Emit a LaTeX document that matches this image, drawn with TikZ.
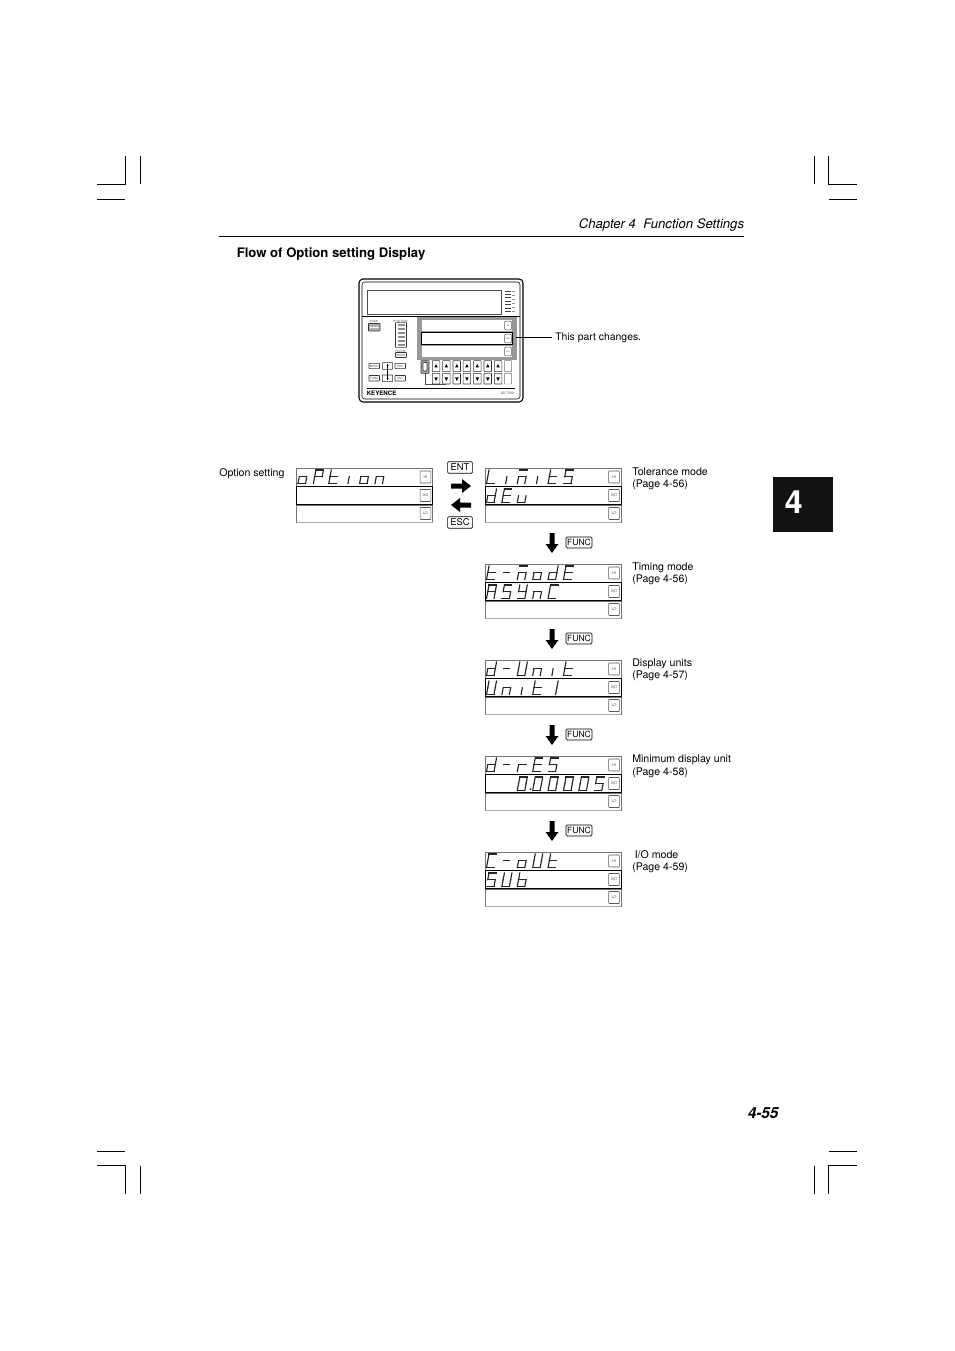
\documentclass[tikz,border=0pt]{standalone}
\usepackage{fontspec}
\setmainfont{TeX Gyre Heros}
\newcommand\SegA{\draw[segline] (2.5,0)--(10,0);}
\newcommand\SegB{\draw[segline] (10,0)--(8.75,6.75);}
\newcommand\SegC{\draw[segline] (8.75,6.75)--(7.5,13.5);}
\newcommand\SegD{\draw[segline] (0,13.5)--(7.5,13.5);}
\newcommand\SegE{\draw[segline] (1.25,6.75)--(0,13.5);}
\newcommand\SegF{\draw[segline] (2.5,0)--(1.25,6.75);}
\newcommand\SegG{\draw[segline] (1.25,6.75)--(8.75,6.75);}
\newcommand\GlO{\SegC\SegD\SegE\SegG}
\newcommand\GlP{\SegA\SegB\SegE\SegF\SegG}
\newcommand\GlT{\SegD\SegE\SegF\SegG}
\newcommand\GlI{\draw[segline] (5,6.75)--(3.8,13.5);}
\newcommand\GlN{\SegC\SegE\SegG}
\newcommand\GlL{\SegD\SegE\SegF}
\newcommand\GlM{\SegA\SegC\SegE\SegG}
\newcommand\GlS{\SegA\SegC\SegD\SegF\SegG}
\newcommand\GlD{\SegB\SegC\SegD\SegE\SegG}
\newcommand\GlE{\SegA\SegD\SegE\SegF\SegG}
\newcommand\GlU{\SegC\SegD\SegE}
\newcommand\GlDash{\draw[segline] (2,6.75)--(8,6.75);}
\newcommand\GlA{\SegA\SegB\SegC\SegE\SegF\SegG}
\newcommand\GlY{\SegB\SegC\SegD\SegF\SegG}
\newcommand\GlC{\SegA\SegD\SegE\SegF}
\newcommand\GlBigU{\SegB\SegC\SegD\SegE\SegF}
\newcommand\GlOne{\SegB\SegC}
\newcommand\GlR{\SegE\SegG}
\newcommand\GlB{\SegC\SegD\SegE\SegF\SegG}
\newcommand\GlZero{\SegA\SegB\SegC\SegD\SegE\SegF}
\newcommand\dispText[3]{\foreach \p/\g in {#3}{\begin{scope}[shift={(#1+15.4*\p,#2)}]\g\end{scope}}}
\newcommand\panel[2]{%
  \draw[rowgray] (#1,#2) rectangle (#1+136,#2+18);
  \draw[rowgray] (#1,#2+37) rectangle (#1+136,#2+54);
  \draw[rowblack] (#1,#2+18.5) rectangle (#1+136,#2+36.5);
  \draw[gray!70,line width=.7pt] (#1,#2+54) -- (#1+136,#2+54);
  \node[btn] at (#1+129,#2+9) {HI};
  \node[btn] at (#1+129,#2+27.5) {GO};
  \node[btn] at (#1+129,#2+45.5) {LO};
}
\newcommand\funcstep[1]{%
  \fill (549.5,#1) -- (554.5,#1) -- (554.5,#1+11) -- (558.5,#1+11) -- (552,#1+20) -- (545.5,#1+11) -- (549.5,#1+11) -- cycle;
  \node[keybox,minimum width=19.5pt,minimum height=8.2pt] at (579,#1+9.5) {FUNC};
}
\newcommand\crop[1]{\draw[cropline] #1;}
\tikzset{
  segline/.style={line width=.85pt,line cap=rect,black!85},
  rowgray/.style={draw=black!55,line width=.45pt},
  rowblack/.style={draw=black,line width=.65pt},
  btn/.style={draw=black!65,line width=.4pt,rounded corners=.6pt,minimum width=8.2pt,minimum height=9pt,inner sep=0pt,font=\fontsize{2.8}{3}\selectfont,text=black!70},
  keybox/.style={draw=black,line width=.45pt,rounded corners=1pt,inner sep=0pt,font=\fontsize{6.4}{7}\selectfont},
  cropline/.style={line width=.7pt,black},
  lab/.style={anchor=base west,inner sep=0pt,align=left,font=\fontsize{7.95}{9}\selectfont},
  tiny/.style={inner sep=0pt,font=\fontsize{2.2}{2.5}\selectfont,text=black!70},
  pk/.style={draw=black!80,line width=.4pt,rounded corners=.3pt},
  pkg/.style={draw=black!55,line width=.35pt,rounded corners=.3pt},
}
\begin{document}
\begin{tikzpicture}[x=.75pt,y=-.75pt]
\useasboundingbox (0,0) rectangle (954,1351);
\fill[white] (0,0) rectangle (954,1351);
% crop marks
\crop{(97,184.5)--(125.5,184.5)--(125.5,156)}
\crop{(140.5,156)--(140.5,184.5)}
\crop{(97,199.5)--(125,199.5)}
\crop{(814.5,156)--(814.5,184.5)}
\crop{(828.5,156)--(828.5,184.5)--(857,184.5)}
\crop{(829,199.5)--(857,199.5)}
\crop{(97,1151)--(125,1151)}
\crop{(97,1165.5)--(125.5,1165.5)--(125.5,1194)}
\crop{(140.5,1165.5)--(140.5,1194)}
\crop{(829,1151)--(857,1151)}
\crop{(814.5,1165.5)--(814.5,1194)}
\crop{(857,1165.5)--(828.5,1165.5)--(828.5,1194)}
% header
\node[lab,font=\fontsize{9.85}{11}\itshape] (chap) at (578.5,229) {Chapter 4\ \ Function Settings};
\draw[line width=.6pt] (219,236.5) -- (744,236.5);
\node[lab,font=\fontsize{9.85}{11}\bfseries] (title) at (236.5,258) {Flow of Option setting Display};
% front panel
\draw[line width=.8pt,rounded corners=3pt] (359,279) rectangle (523,402);
\draw[line width=.4pt,rounded corners=2pt] (362,282) rectangle (520,399);
\draw[line width=.45pt,black!70] (367.5,290) rectangle (501,314.5);
\draw[line width=.4pt] (362,316) -- (416,316);
\fill[black!40] (416.5,316.5) rectangle (516.5,360);
\draw[line width=.4pt] (416,316) -- (520,316);
\fill[white] (421.5,320) rectangle (512,330.7);
\fill[white] (421.5,346) rectangle (512,357.3);
\draw[rowblack,fill=white] (421,332) rectangle (512.5,344.7);
\node[btn,minimum width=5pt,minimum height=6.5pt,font=\fontsize{1.8}{2}\selectfont,fill=white] at (508,325.5) {HI};
\node[btn,minimum width=5pt,minimum height=6.5pt,font=\fontsize{1.8}{2}\selectfont,fill=white] at (508,338.5) {GO};
\node[btn,minimum width=5pt,minimum height=6.5pt,font=\fontsize{1.8}{2}\selectfont,fill=white] at (508,351.5) {LO};
\foreach \yy/\lw in {291.5/.7,294/.4,297.5/.7,301/.4,304.5/.4,308/.7,311.5/.4}{
  \draw[line width=\lw pt,black!75] (505,\yy) -- (511,\yy);
}
\foreach \yy in {291.5,295,299,303,307,311}{\draw[black!40,line width=.3pt] (512,\yy) -- (515,\yy);}
% left controls
\node[tiny] (scanl) at (374,321) {SCAN};
\draw[pk,fill=black!30] (368.5,323.5) rectangle (380,331);
\draw[line width=.4pt,white] (370,327.5) -- (379,327.5);
\node[tiny] (posl) at (400.5,321) {POSITION};
\draw[pk] (395.5,322.7) rectangle (406.5,347.3);
\foreach \yy in {325,329,333,337,341,345}{\draw[black!45,line width=1pt] (397.5,\yy) -- (404.5,\yy);}
\node[tiny] (focl) at (400.5,351) {FOCUS};
\draw[pk] (395.5,352.5) rectangle (406.5,357.5);
\node[tiny] (model) at (401,355) {MODE};
\foreach \xa/\xb in {369/379.5,395/405.5}{
  \draw[pk] (\xa,363.3) rectangle (\xb,368.7);
  \draw[pk] (\xa,375.5) rectangle (\xb,381);
}
\draw[pk] (382.3,362.7) rectangle (392.7,369.3);
\draw[pk] (382.3,375) rectangle (392.7,381.7);
\node[tiny] (k1) at (374.2,366) {MENU};
\node[tiny] (k2) at (400.2,366) {ESC};
\node[tiny] (k3) at (374.2,378.2) {FUNC};
\node[tiny] (k4) at (400.2,378.2) {ENT};
\draw[line width=.55pt] (387.7,364.5) -- (387.7,380.5);
\fill (387.7,365.5) circle (.9);
\fill (387.7,378.5) circle (.9);
% keys
\draw[pk,fill=black!35] (421,360.7) rectangle (429,373.3);
\draw[pk,fill=white] (423,362.5) rectangle (427,371);
\draw[line width=.3pt,black!70] (425,373.3) -- (425,384) -- (446,384);
\foreach \xa in {432.3,442.6,453,463.2,473.6,484,494.3}{
  \draw[pk] (\xa,360.7) rectangle (\xa+7.5,371.7);
  \draw[pk] (\xa,373.3) rectangle (\xa+7.5,384);
  \fill (\xa+3.75,364) -- (\xa+5.5,367.5) -- (\xa+2,367.5) -- cycle;
  \fill (\xa+3.75,381) -- (\xa+5.5,377.5) -- (\xa+2,377.5) -- cycle;
}
\draw[pkg] (504.7,360.7) rectangle (511.7,371.7);
\draw[pkg] (504.7,373.3) rectangle (511.7,384);
\draw[line width=.8pt] (366.5,388.3) -- (515,388.3);
\node[lab,font=\fontsize{4.6}{5}\selectfont] (brand) at (366.5,395.5) {\textbf{KEYENCE}};
\node[lab,font=\fontsize{2.6}{3}\selectfont,text=black!70] (lbmodel) at (500.5,394.5) {LB-7000};
\draw[line width=.5pt] (516,337.5) -- (552,337.5);
\node[lab,font=\fontsize{7.8}{9}\selectfont] (thispart) at (555,341) {This part changes.};
% labels
\node[lab] (opt) at (219,476) {Option setting};
\node[lab] (l1a) at (632,475) {Tolerance mode};
\node[lab] (l1b) at (632,487) {(Page 4-56)};
\node[lab] (l2a) at (632,570) {Timing mode};
\node[lab] (l2b) at (632,582) {(Page 4-56)};
\node[lab] (l3a) at (632,666) {Display units};
\node[lab] (l3b) at (632,678) {(Page 4-57)};
\node[lab] (l4a) at (632,762) {Minimum display unit};
\node[lab] (l4b) at (632,775) {(Page 4-58)};
\node[lab] (l5a) at (634.5,858) {I/O mode};
\node[lab] (l5b) at (632,870) {(Page 4-59)};
% panels
\panel{296.5}{468}
\panel{485}{468}
\panel{485}{564}
\panel{485}{660}
\panel{485}{756}
\panel{485}{852}
\dispText{298}{470}{0/\GlO,1/\GlP,2/\GlT,3/\GlI,4/\GlO,5/\GlN}
\dispText{486.5}{470}{0/\GlL,1/\GlI,2/\GlM,3/\GlI,4/\GlT,5/\GlS}
\dispText{486.5}{489}{0/\GlD,1/\GlE,2/\GlU}
\dispText{486.5}{566}{0/\GlT,1/\GlDash,2/\GlM,3/\GlO,4/\GlD,5/\GlE}
\dispText{486.5}{585}{0/\GlA,1/\GlS,2/\GlY,3/\GlN,4/\GlC}
\dispText{486.5}{662}{0/\GlD,1/\GlDash,2/\GlBigU,3/\GlN,4/\GlI,5/\GlT}
\dispText{486.5}{681}{0/\GlBigU,1/\GlN,2/\GlI,3/\GlT,4/\GlOne}
\dispText{486.5}{758}{0/\GlD,1/\GlDash,2/\GlR,3/\GlE,4/\GlS}
\dispText{486.5}{777}{2/\GlZero,3/\GlZero,4/\GlZero,5/\GlZero,6/\GlZero,7/\GlS}
\fill[black!85] (530.5,789.2) circle (1);
\dispText{486.5}{854}{0/\GlC,1/\GlDash,2/\GlO,3/\GlBigU,4/\GlT}
\dispText{486.5}{873}{0/\GlS,1/\GlBigU,2/\GlB}
% ENT / ESC
\node[keybox,font=\fontsize{7}{8}\selectfont,minimum width=19pt,minimum height=8.6pt] (ent) at (460,467.5) {ENT};
\node[keybox,font=\fontsize{7}{8}\selectfont,minimum width=19pt,minimum height=8.6pt] (esc) at (460,522.5) {ESC};
\fill (451,483.5) -- (462,483.5) -- (462,479) -- (471,486) -- (462,493) -- (462,488.5) -- (451,488.5) -- cycle;
\fill (471,502.5) -- (460,502.5) -- (460,498) -- (451,505) -- (460,512) -- (460,507.5) -- (471,507.5) -- cycle;
\funcstep{533}
\funcstep{629}
\funcstep{725}
\funcstep{821}
% tab and page number
\fill[black!93] (773,477) rectangle (833,532);
\node[inner sep=0pt,text=white,font=\fontsize{24}{26}\bfseries] (tab) at (793.7,502) {4};
\node[lab,font=\fontsize{11.5}{13}\bfseries\itshape] (pg) at (747.5,1118) {4-55};
\end{tikzpicture}
\end{document}
